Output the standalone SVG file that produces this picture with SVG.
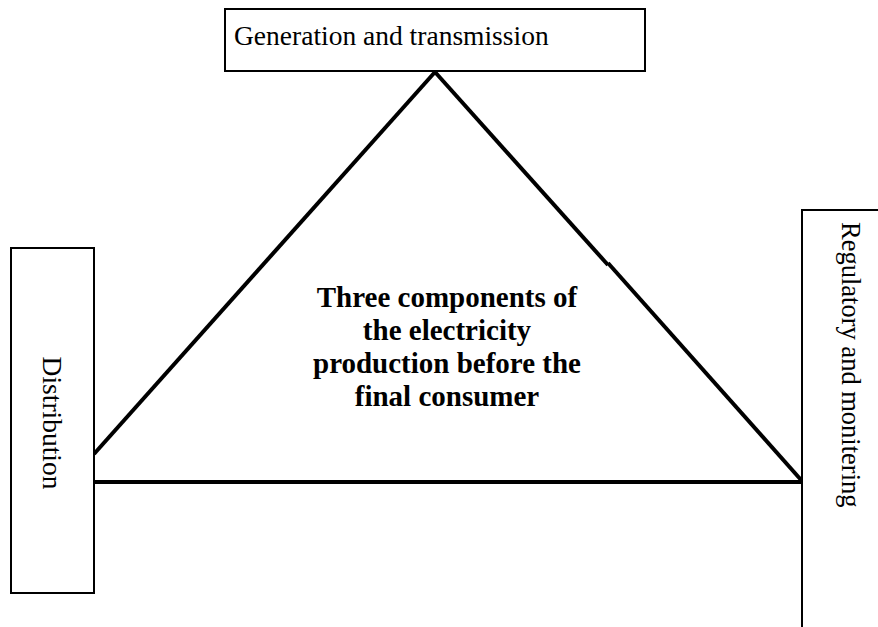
<svg xmlns="http://www.w3.org/2000/svg" width="878" height="627" viewBox="0 0 878 627">
<style>
.box{fill:#fff;stroke:#000;stroke-width:2}
.lbl{font-family:"Liberation Serif","Times New Roman",serif;font-size:27.5px;fill:#000}
.ctr{font-family:"Liberation Serif","Times New Roman",serif;font-size:29px;font-weight:bold;fill:#000;text-anchor:middle}
.edge{stroke:#000;stroke-width:4;fill:none;stroke-linecap:butt}
</style>
<rect width="878" height="627" fill="#fff"/>
<g id="connectors">
<line class="edge" x1="435" y1="72" x2="94" y2="454"/>
<line class="edge" x1="435" y1="72" x2="608" y2="265"/>
<line class="edge" x1="608" y1="263" x2="802" y2="481"/>
<line class="edge" x1="94" y1="482" x2="802" y2="482"/>
</g>
<g id="generation">
<rect class="box" x="225" y="9" width="420" height="62"/>
<text class="lbl" x="234" y="45">Generation and transmission</text>
</g>
<g id="distribution">
<rect class="box" x="11" y="248" width="83" height="345"/>
<text class="lbl" transform="translate(43,423) rotate(90)" text-anchor="middle">Distribution</text>
</g>
<g id="regulatory">
<rect class="box" x="802" y="210" width="90" height="430"/>
<text class="lbl" style="font-size:26.5px" transform="translate(842,222) rotate(90)">Regulatory and monitering</text>
</g>
<g id="center">
<text class="ctr" x="447" y="307">Three components of</text>
<text class="ctr" x="447" y="340">the electricity</text>
<text class="ctr" x="447" y="373">production before the</text>
<text class="ctr" x="447" y="406">final consumer</text>
</g>
</svg>
